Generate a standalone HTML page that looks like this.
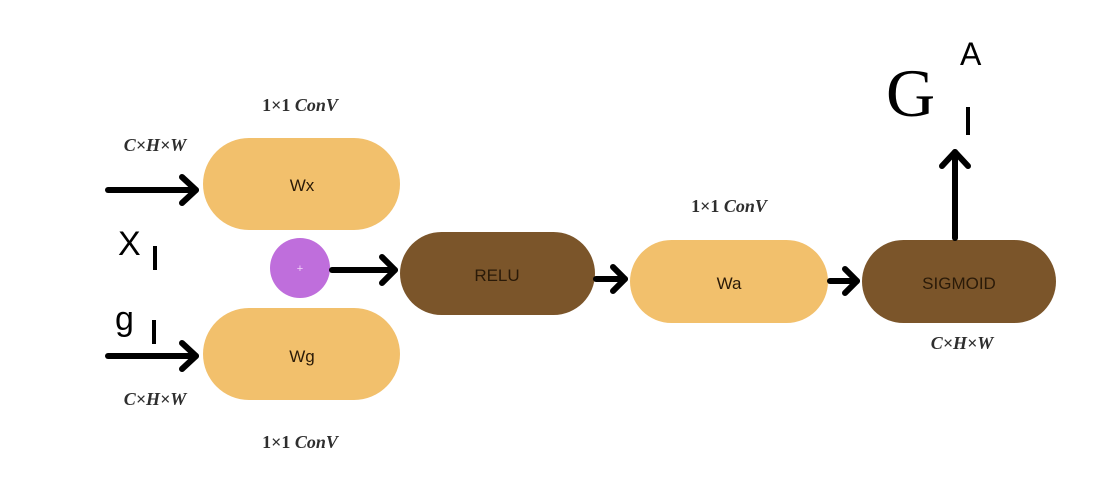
<!DOCTYPE html>
<html><head><meta charset="utf-8"><style>
html,body{margin:0;padding:0;background:#fff;width:1116px;height:494px;overflow:hidden}
</style></head><body>
<svg width="1116" height="494" viewBox="0 0 1116 494" xmlns="http://www.w3.org/2000/svg">
<g fill="#F2C06C">
<rect x="203" y="138" width="197" height="92" rx="46"/>
<rect x="203" y="308" width="197" height="92" rx="46"/>
<rect x="630" y="240" width="198" height="83" rx="41.5"/>
</g>
<g fill="#7B552A">
<rect x="400" y="232" width="195" height="83" rx="41.5"/>
<rect x="862" y="240" width="194" height="83" rx="41.5"/>
</g>
<circle cx="300" cy="268" r="30" fill="#BF6EDC"/>
<text x="300" y="272" font-family="Liberation Sans,sans-serif" font-size="11" fill="#f3d6fa" text-anchor="middle">+</text>
<g font-family="Liberation Sans,sans-serif" font-size="17" fill="#2a1a08" text-anchor="middle">
<text x="302" y="191">Wx</text>
<text x="302" y="362">Wg</text>
<text x="729" y="289">Wa</text>
<text x="497" y="281">RELU</text>
<text x="959" y="289">SIGMOID</text>
</g>
<g stroke="#000" stroke-width="6" fill="none" stroke-linecap="round" stroke-linejoin="round">
<line x1="108" y1="190" x2="196" y2="190"/><polyline points="182,177 196,190 182,203"/>
<line x1="108" y1="356" x2="196" y2="356"/><polyline points="182,343 196,356 182,369"/>
<line x1="332" y1="270" x2="395" y2="270"/><polyline points="382,257 395,270 382,283"/>
<line x1="596" y1="279" x2="625" y2="279"/><polyline points="613,267 625,279 613,291"/>
<line x1="830" y1="281" x2="857" y2="281"/><polyline points="845,269 857,281 845,293"/>
<line x1="955" y1="238" x2="955" y2="152"/><polyline points="942,166 955,152 968,166"/>
</g>
<g font-family="Liberation Serif,serif" font-size="18" font-weight="bold" fill="#2e2e2e" text-anchor="middle">
<text x="300" y="111">1×1 <tspan font-style="italic">ConV</tspan></text>
<text x="300" y="448">1×1 <tspan font-style="italic">ConV</tspan></text>
<text x="729" y="212">1×1 <tspan font-style="italic">ConV</tspan></text>
<text x="155" y="151" font-style="italic">C×H×W</text>
<text x="155" y="405" font-style="italic">C×H×W</text>
<text x="962" y="349" font-style="italic">C×H×W</text>
</g>
<g font-family="Liberation Sans,sans-serif" fill="#000">
<text x="118" y="255" font-size="34">X</text>
<rect x="153" y="246" width="4" height="24"/>
<text x="115" y="330" font-size="34">g</text>
<rect x="152" y="320" width="4" height="24"/>
<text x="960" y="65" font-size="32">A</text>
<rect x="966" y="107" width="4" height="28"/>
</g>
<text x="886" y="116" font-family="Liberation Serif,serif" font-size="68" fill="#000">G</text>
</svg>
</body></html>
